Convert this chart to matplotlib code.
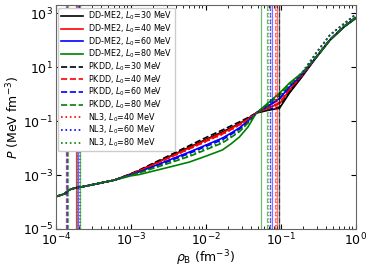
import matplotlib
matplotlib.use('Agg')
import matplotlib.pyplot as plt
from matplotlib.ticker import NullLocator, LogLocator
import numpy as np

# baryon density grid (fm^-3)
rho = [1.0e-4, 1.3e-4, 1.5e-4, 1.8e-4, 2.2e-4, 6.0e-4, 1.0e-3, 1.3e-3, 3.0e-3,
       6.0e-3, 1.0e-2, 1.66e-2, 2.15e-2, 2.8e-2, 3.64e-2, 4.7e-2, 0.07, 0.096,
       0.13, 0.19, 0.3, 0.45, 0.7, 1.0]

# log10 of pressure (MeV fm^-3)
low = [-3.80, -3.70, -3.55, -3.48, -3.44, -3.19]

logP_dd30 = low + [-2.96, -2.83, -2.36, -1.97, -1.68, -1.40, -1.25, -1.09, -0.90, -0.70, -0.59, -0.52, 0.04, 0.63, 1.38, 2.00, 2.50, 2.82]
logP_dd40 = low + [-2.96, -2.84, -2.38, -2.00, -1.71, -1.44, -1.28, -1.11, -0.92, -0.70, -0.50, -0.35, 0.15, 0.67, 1.38, 2.00, 2.50, 2.82]
logP_dd60 = low + [-2.98, -2.88, -2.48, -2.15, -1.89, -1.63, -1.45, -1.25, -0.99, -0.70, -0.42, -0.16, 0.26, 0.71, 1.38, 2.00, 2.50, 2.82]
logP_dd80 = low + [-3.03, -2.98, -2.73, -2.52, -2.30, -2.07, -1.85, -1.59, -1.22, -0.70, -0.29, 0.04, 0.41, 0.78, 1.38, 2.00, 2.50, 2.82]
logP_pk30 = low + [-2.95, -2.81, -2.32, -1.91, -1.61, -1.33, -1.18, -1.03, -0.87, -0.70, -0.57, -0.48, 0.08, 0.65, 1.40, 2.02, 2.52, 2.85]
logP_pk40 = low + [-2.97, -2.84, -2.40, -2.03, -1.75, -1.48, -1.32, -1.14, -0.93, -0.70, -0.49, -0.33, 0.17, 0.68, 1.40, 2.02, 2.52, 2.85]
logP_pk60 = low + [-2.99, -2.89, -2.52, -2.20, -1.94, -1.69, -1.50, -1.30, -1.03, -0.70, -0.41, -0.18, 0.25, 0.70, 1.40, 2.02, 2.52, 2.85]
logP_pk80 = low + [-3.00, -2.92, -2.59, -2.31, -2.06, -1.81, -1.61, -1.39, -1.07, -0.70, -0.34, -0.05, 0.33, 0.74, 1.40, 2.02, 2.52, 2.85]
logP_nl40 = low + [-2.97, -2.85, -2.41, -2.04, -1.76, -1.49, -1.33, -1.15, -0.94, -0.70, -0.48, -0.30, 0.18, 0.72, 1.55, 2.19, 2.62, 2.96]
logP_nl60 = low + [-2.98, -2.88, -2.49, -2.17, -1.90, -1.64, -1.46, -1.27, -1.01, -0.70, -0.40, -0.13, 0.28, 0.75, 1.55, 2.19, 2.62, 2.96]
logP_nl80 = low + [-3.00, -2.91, -2.57, -2.28, -2.02, -1.77, -1.58, -1.37, -1.06, -0.70, -0.33, -0.02, 0.36, 0.80, 1.55, 2.19, 2.62, 2.96]

# transition densities (vertical lines)
rho_low = [1.86e-4, 1.88e-4, 1.95e-4, 2.08e-4, 1.38e-4, 1.40e-4, 1.42e-4, 1.43e-4, 1.90e-4, 2.00e-4, 2.10e-4]
rho_high = [0.095, 0.088, 0.075, 0.054, 0.093, 0.083, 0.071, 0.066, 0.085, 0.072, 0.067]

curves = [logP_dd30, logP_dd40, logP_dd60, logP_dd80,
          logP_pk30, logP_pk40, logP_pk60, logP_pk80,
          logP_nl40, logP_nl60, logP_nl80]
labels = ['DD-ME2, $L_0$=30 MeV', 'DD-ME2, $L_0$=40 MeV', 'DD-ME2, $L_0$=60 MeV', 'DD-ME2, $L_0$=80 MeV',
          'PKDD, $L_0$=30 MeV', 'PKDD, $L_0$=40 MeV', 'PKDD, $L_0$=60 MeV', 'PKDD, $L_0$=80 MeV',
          'NL3, $L_0$=40 MeV', 'NL3, $L_0$=60 MeV', 'NL3, $L_0$=80 MeV']
colors = ['k', 'r', 'b', 'g', 'k', 'r', 'b', 'g', 'r', 'b', 'g']
styles = ['-', '-', '-', '-', '--', '--', '--', '--', ':', ':', ':']

fig = plt.figure(figsize=(3.73, 2.70), dpi=100)
ax = fig.add_axes([0.150, 0.152, 0.804, 0.829])

for y, lab, c, ls in zip(curves, labels, colors, styles):
    ax.plot(rho, 10 ** np.array(y), color=c, ls=ls, lw=1.2, label=lab)

for r1, r2, c, ls in zip(rho_low, rho_high, colors, styles):
    ax.axvline(r1, color=c, ls=ls, lw=0.9, alpha=0.55)
    ax.axvline(r2, color=c, ls=ls, lw=0.9, alpha=0.55)

ax.set_xscale('log')
ax.set_yscale('log')
ax.set_xlim(1e-4, 1)
ax.set_ylim(1e-5, 2e3)
ax.set_yticks([1e-5, 1e-3, 1e-1, 1e1, 1e3])
ax.yaxis.set_minor_locator(NullLocator())
ax.xaxis.set_minor_locator(LogLocator(base=10, subs=np.arange(2, 10), numticks=20))

ax.tick_params(which='both', direction='in', top=True, right=True, labelsize=9, pad=2)
ax.tick_params(which='major', length=3.5)
ax.tick_params(which='minor', length=2)
for s in ax.spines.values():
    s.set_color('0.4')

ax.set_xlabel(r'$\rho_{\rm B}$ (fm$^{-3}$)', fontsize=9, labelpad=0)
ax.set_ylabel(r'$P$ (MeV fm$^{-3}$)', fontsize=9, labelpad=1)

ax.legend(loc='upper left', fontsize=5.8, handlelength=2.7, labelspacing=0.02,
          borderaxespad=0.3, framealpha=1, borderpad=0.3, handletextpad=0.7)

fig.savefig('out.png', dpi=100)
